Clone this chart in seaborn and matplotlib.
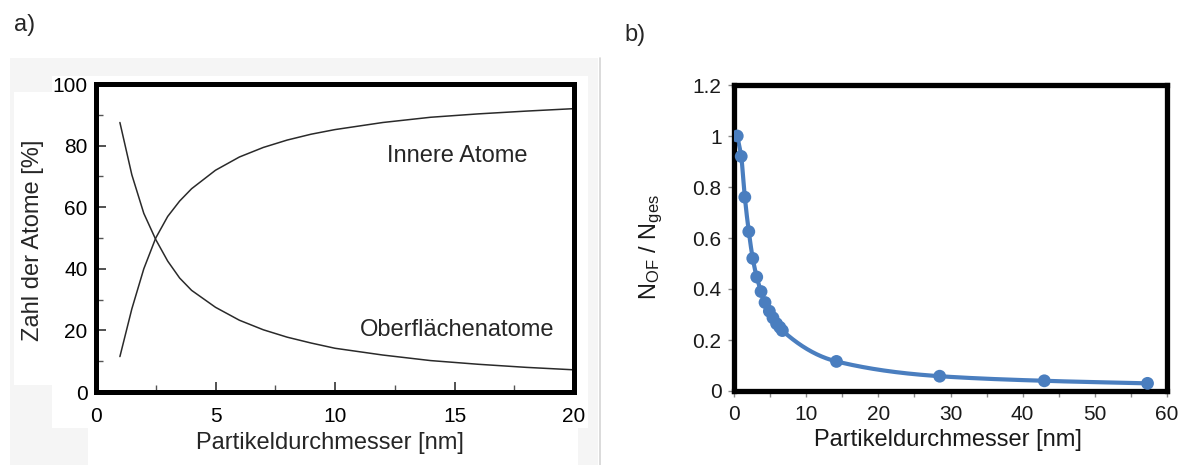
import numpy as np
import pandas as pd
import seaborn as sns
import matplotlib
matplotlib.use("Agg")
import matplotlib.pyplot as plt
from matplotlib.patches import Rectangle
from matplotlib.lines import Line2D
from matplotlib.ticker import MultipleLocator, FuncFormatter

# ---------------- data ----------------
# panel a: fraction of atoms vs particle diameter
diam_a = [1, 1.5, 2, 2.5, 3, 3.5, 4, 5, 6, 7, 8, 9, 10, 12, 14, 16, 18, 20]
surface_pct = [87.5, 70.5, 58, 49.5, 42.5, 37, 33, 27.5, 23.3, 20.2, 17.8, 15.9,
               14.2, 12.0, 10.2, 9.0, 8.0, 7.2]
inner_pct = [11.5, 27, 40, 50, 57, 62, 66, 72, 76.3, 79.4, 81.8, 83.7,
             85.2, 87.5, 89.2, 90.3, 91.2, 92.0]
label_inner = "Innere Atome"
label_surface = "Oberflächenatome"

# panel b: N_OF / N_ges vs particle diameter
diam_b = [0.45, 1.0, 1.5, 2.05, 2.6, 3.15, 3.75, 4.3, 4.9, 5.4, 5.9, 6.35, 6.7,
          14.2, 28.5, 43.0, 57.3]
ratio_b = [1.0, 0.92, 0.76, 0.625, 0.52, 0.447, 0.39, 0.347, 0.313, 0.287,
           0.264, 0.25, 0.237, 0.116, 0.058, 0.04, 0.03]

xticks_a = [0, 5, 10, 15, 20]
yticks_a = [0, 20, 40, 60, 80, 100]
xticks_b = [0, 10, 20, 30, 40, 50, 60]
yticks_b = [0, 0.2, 0.4, 0.6, 0.8, 1.0, 1.2]

# ---------------- style ----------------
sns.set_theme(style="white")
plt.rcParams["font.family"] = ["Liberation Sans", "DejaVu Sans"]
plt.rcParams["mathtext.fontset"] = "custom"
plt.rcParams["mathtext.rm"] = "Liberation Sans"
plt.rcParams["mathtext.it"] = "Liberation Sans:italic"
plt.rcParams["mathtext.bf"] = "Liberation Sans:bold"

W, H = 1185, 465
fig = plt.figure(figsize=(W / 100, H / 100), dpi=100)
fig.patch.set_facecolor("white")


def fr(x0, y0, x1, y1):
    """pixel box (top-left origin) -> figure fraction rect"""
    return [x0 / W, 1 - y1 / H, (x1 - x0) / W, (y1 - y0) / H]


# faint scanned-panel background for a)
for (x0, y0, x1, y1, c) in [
    (10, 58, 598, 465, "#f5f5f5"),
    (52, 76, 588, 428, "white"),
    (88, 428, 578, 465, "white"),
    (14, 92, 52, 385, "white"),
]:
    fig.patches.append(Rectangle((x0 / W, 1 - y1 / H), (x1 - x0) / W, (y1 - y0) / H,
                                 transform=fig.transFigure, facecolor=c,
                                 edgecolor="none", zorder=-5))
fig.lines.append(Line2D([600 / W, 600 / W], [1 - 58 / H, 0], transform=fig.transFigure,
                        color="#d4d4d4", lw=1.2))

# ---------------- panel a ----------------
ax_a = fig.add_axes(fr(96, 84, 574, 392))
df_a = pd.DataFrame({"d": diam_a, "surf": surface_pct, "inner": inner_pct})
sns.lineplot(data=df_a, x="d", y="surf", ax=ax_a, color="#2a2a2a", lw=1.1, sort=False)
sns.lineplot(data=df_a, x="d", y="inner", ax=ax_a, color="#2a2a2a", lw=1.1, sort=False)
ax_a.set_xlim(0, 20)
ax_a.set_ylim(0, 100)
ax_a.set_xticks(xticks_a)
ax_a.set_yticks(yticks_a)
ax_a.xaxis.set_minor_locator(MultipleLocator(2.5))
ax_a.yaxis.set_minor_locator(MultipleLocator(10))
ax_a.tick_params(axis="both", which="major", direction="in", length=7, width=1.2,
                 color="#333333", labelsize=15, labelcolor="black")
ax_a.tick_params(axis="y", which="major", pad=6)
ax_a.tick_params(axis="x", which="major", pad=11)
ax_a.tick_params(axis="both", which="minor", direction="in", length=5, width=1.0,
                 color="#555555")
ax_a.tick_params(bottom=True, left=True, which="both")
for sp in ax_a.spines.values():
    sp.set_linewidth(3.6)
    sp.set_color("black")
ax_a.set_xlabel("Partikeldurchmesser [nm]", fontsize=17)
ax_a.set_ylabel("Zahl der Atome [%]", fontsize=17)
ax_a.xaxis.set_label_coords(0.49, -0.165)
ax_a.xaxis.label.set_verticalalignment("center")
ax_a.yaxis.set_label_coords(-0.132, 0.494)
ax_a.yaxis.label.set_verticalalignment("center")
ax_a.text(15.1, 76.6, label_inner, fontsize=17, ha="center", va="center",
          bbox=dict(facecolor="white", edgecolor="none", pad=6))
ax_a.text(15.1, 20.1, label_surface, fontsize=17, ha="center", va="center",
          bbox=dict(facecolor="white", edgecolor="none", pad=6))

# ---------------- panel b ----------------
def pchip(x, y, xs):
    x = np.asarray(x, float)
    y = np.asarray(y, float)
    h = np.diff(x)
    d = np.diff(y) / h
    m = np.zeros_like(y)
    for k in range(1, len(x) - 1):
        if d[k - 1] * d[k] > 0:
            w1 = 2 * h[k] + h[k - 1]
            w2 = h[k] + 2 * h[k - 1]
            m[k] = (w1 + w2) / (w1 / d[k - 1] + w2 / d[k])
    m[0] = d[0]
    m[-1] = d[-1]
    idx = np.clip(np.searchsorted(x, xs) - 1, 0, len(h) - 1)
    t = (xs - x[idx]) / h[idx]
    h00 = 2 * t**3 - 3 * t**2 + 1
    h10 = t**3 - 2 * t**2 + t
    h01 = -2 * t**3 + 3 * t**2
    h11 = t**3 - t**2
    return h00 * y[idx] + h10 * h[idx] * m[idx] + h01 * y[idx + 1] + h11 * h[idx] * m[idx + 1]


ax_b = fig.add_axes(fr(734, 85, 1167, 391))
blue = "#4a7ebf"
xs = np.linspace(diam_b[0], diam_b[-1], 600)
smooth = pd.DataFrame({"d": xs, "r": pchip(diam_b, ratio_b, xs)})
pts = pd.DataFrame({"d": diam_b, "r": ratio_b})
sns.lineplot(data=smooth, x="d", y="r", ax=ax_b, color=blue, lw=3.0, sort=False)
sns.scatterplot(data=pts, x="d", y="r", ax=ax_b, color=blue, s=85, edgecolor="none",
                zorder=3)
ax_b.set_xlim(0, 60)
ax_b.set_ylim(0, 1.2)
ax_b.set_xticks(xticks_b)
ax_b.set_yticks(yticks_b)
ax_b.xaxis.set_minor_locator(MultipleLocator(5))
ax_b.yaxis.set_major_formatter(FuncFormatter(lambda v, p: "%g" % round(v, 2)))
ax_b.tick_params(axis="both", which="both", direction="out", length=4, width=1.0,
                 color="#8a8a8a", labelsize=15, labelcolor="#1a1a1a")
ax_b.tick_params(bottom=True, left=True, which="both")
ax_b.tick_params(axis="x", which="major", pad=6)
ax_b.tick_params(axis="y", which="major", pad=5)
for sp in ax_b.spines.values():
    sp.set_linewidth(3.8)
    sp.set_color("black")
ax_b.set_xlabel("Partikeldurchmesser [nm]", fontsize=17, color="#1a1a1a")
ax_b.set_ylabel(r"N$_{\mathrm{OF}}$ / N$_{\mathrm{ges}}$", fontsize=17, color="#1a1a1a")
ax_b.xaxis.set_label_coords(0.494, -0.16)
ax_b.xaxis.label.set_verticalalignment("center")
ax_b.yaxis.set_label_coords(-0.19, 0.47)
ax_b.yaxis.label.set_verticalalignment("center")

# panel letters
fig.text(25 / W, 1 - 25 / H, "a)", fontsize=17, ha="center", va="center")
fig.text(635 / W, 1 - 35 / H, "b)", fontsize=17, ha="center", va="center")

fig.savefig("out.png", dpi=100)
